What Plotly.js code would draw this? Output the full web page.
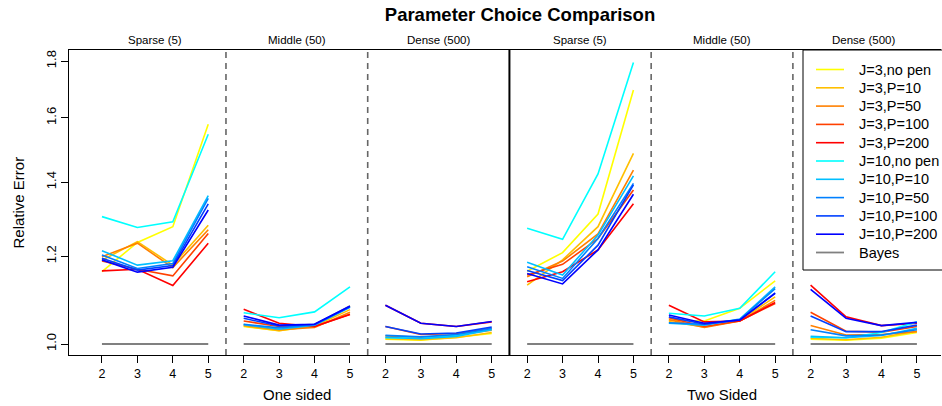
<!DOCTYPE html>
<html><head><meta charset="utf-8">
<script src="https://cdn.plot.ly/plotly-3.0.1.min.js"></script>
<style>html,body{margin:0;padding:0;background:#fff;}#chart{width:942px;height:406px;}</style>
</head><body><div id="chart"></div>
<script>
// x values within each panel
const xVals = [2, 3, 4, 5];
const panelTitles = ["Sparse (5)", "Middle (50)", "Dense (500)", "Sparse (5)", "Middle (50)", "Dense (500)"];
const groupTitles = ["One sided", "Two Sided"];
const seriesNames = ["J=3,no pen","J=3,P=10","J=3,P=50","J=3,P=100","J=3,P=200",
                     "J=10,no pen","J=10,P=10","J=10,P=50","J=10,P=100","J=10,P=200","Bayes"];
const seriesColors = ["#FFFF00","#FFBF00","#FF8000","#FF4000","#FF0000",
                      "#00FFFF","#00BFFF","#0080FF","#0040FF","#0000FF","#808080"];
// values: panels 1..6, each x=2,3,4,5
const J3_nopen = [1.162,1.235,1.276,1.579, 1.037,1.028,1.039,1.082, 1.010,1.008,1.014,1.022,
                  1.163,1.209,1.310,1.695, 1.051,1.049,1.077,1.140, 1.010,1.008,1.012,1.024];
const J3_P10   = [1.190,1.237,1.178,1.280, 1.038,1.028,1.038,1.074, 1.011,1.009,1.013,1.024,
                  1.130,1.191,1.276,1.486, 1.048,1.036,1.050,1.103, 1.012,1.009,1.014,1.027];
const J3_P50   = [1.199,1.233,1.172,1.268, 1.040,1.030,1.035,1.068, 1.017,1.014,1.019,1.029,
                  1.150,1.188,1.257,1.435, 1.052,1.035,1.049,1.095, 1.039,1.019,1.020,1.026];
const J3_P100  = [1.188,1.168,1.152,1.258, 1.049,1.037,1.037,1.064, 1.037,1.020,1.022,1.033,
                  1.154,1.180,1.245,1.377, 1.056,1.037,1.049,1.088, 1.068,1.027,1.025,1.037];
const J3_P200  = [1.164,1.168,1.129,1.233, 1.075,1.044,1.037,1.063, 1.084,1.044,1.037,1.047,
                  1.138,1.162,1.216,1.338, 1.084,1.047,1.049,1.090, 1.130,1.058,1.039,1.044];
const J10_nopen= [1.303,1.274,1.289,1.546, 1.067,1.056,1.069,1.126, 1.013,1.012,1.018,1.031,
                  1.272,1.243,1.424,1.795, 1.066,1.060,1.077,1.162, 1.014,1.013,1.024,1.047];
const J10_P10  = [1.214,1.178,1.189,1.361, 1.041,1.031,1.040,1.079, 1.014,1.011,1.016,1.030,
                  1.185,1.154,1.254,1.418, 1.044,1.040,1.053,1.126, 1.016,1.013,1.018,1.033];
const J10_P50  = [1.203,1.170,1.182,1.353, 1.042,1.034,1.041,1.080, 1.018,1.015,1.020,1.033,
                  1.174,1.146,1.245,1.396, 1.045,1.042,1.052,1.122, 1.030,1.017,1.019,1.030];
const J10_P100 = [1.195,1.166,1.177,1.338, 1.055,1.038,1.042,1.081, 1.037,1.021,1.023,1.036,
                  1.165,1.141,1.228,1.392, 1.058,1.042,1.051,1.112, 1.060,1.026,1.026,1.040];
const J10_P200 = [1.191,1.161,1.173,1.321, 1.060,1.040,1.042,1.082, 1.084,1.044,1.037,1.048,
                  1.158,1.133,1.216,1.365, 1.062,1.044,1.051,1.111, 1.120,1.055,1.039,1.046];
const Bayes    = [1,1,1,1, 1,1,1,1, 1,1,1,1, 1,1,1,1, 1,1,1,1, 1,1,1,1];
const yTicks = [1.0, 1.2, 1.4, 1.6, 1.8];
const yTickText = ["1.0","1.2","1.4","1.6","1.8"];

const allSeries = [J3_nopen,J3_P10,J3_P50,J3_P100,J3_P200,J10_nopen,J10_P10,J10_P50,J10_P100,J10_P200,Bayes];
const nPanels = 6, panelStep = 4;
function pos(p, v){ return p*panelStep + (v - xVals[0]); }

const FONT = "Liberation Sans, Arial, Helvetica, sans-serif";
const W = 942, H = 406, ML = 69, MR = 1, MT = 50, MB = 51;
const PW = W - ML - MR, PH = H - MT - MB;
const px2x = px => (px - ML) / PW;       // paper x from pixel
const py2y = py => (H - MB - py) / PH;   // paper y from pixel

const traces = [];
allSeries.forEach((vals, si) => {
  const xs = [], ys = [];
  for (let p = 0; p < nPanels; p++) {
    for (let i = 0; i < xVals.length; i++) { xs.push(pos(p, xVals[i])); ys.push(vals[p*4+i]); }
    xs.push(null); ys.push(null);
  }
  traces.push({type:"scatter", mode:"lines", x:xs, y:ys, name:seriesNames[si],
    connectgaps:false, showlegend:false,
    line:{color:seriesColors[si], width: si===10 ? 1.8 : 1.6}});
});

const tickvals = [], ticktext = [];
for (let p = 0; p < nPanels; p++) xVals.forEach(v => { tickvals.push(pos(p, v)); ticktext.push(String(v)); });

const shapes = [];
[3.5, 7.5, 15.5, 19.5].forEach(x => shapes.push({type:"line", xref:"x", yref:"paper", x0:x, x1:x, y0:0, y1:1,
  line:{color:"#666666", width:1.6, dash:"6px,5px"}}));
shapes.push({type:"line", xref:"x", yref:"paper", x0:11.5, x1:11.5, y0:0, y1:1, line:{color:"#000", width:2}});

const annotations = [];
panelTitles.forEach((t, p) => annotations.push({text:t, xref:"x", yref:"paper", x:pos(p,3.5), y:1, yanchor:"bottom",
  yshift:2, showarrow:false, font:{family:FONT, size:11.5, color:"#000"}}));
groupTitles.forEach((t, g) => annotations.push({text:t, xref:"x", yref:"paper", x:pos(g*3+1,3.5), y:0, yanchor:"middle",
  yshift:-39, showarrow:false, font:{family:FONT, size:15, color:"#000"}}));
annotations.push({text:"Relative Error", xref:"paper", yref:"paper", x:px2x(18), y:0.5, textangle:-90,
  xanchor:"center", yanchor:"middle", showarrow:false, font:{family:FONT, size:15, color:"#000"}});

// legend (drawn as frame + sample lines + text, like R's legend box)
shapes.push({type:"rect", xref:"paper", yref:"paper", x0:px2x(803), x1:px2x(960), y0:py2y(270), y1:1,
  line:{color:"#000", width:1}, fillcolor:"rgba(255,255,255,0)"});
seriesNames.forEach((nm, si) => {
  const yy = py2y(69.5 + 18.3*si);
  shapes.push({type:"line", xref:"paper", yref:"paper", x0:px2x(816), x1:px2x(844), y0:yy, y1:yy,
    line:{color:seriesColors[si], width: si===10 ? 1.8 : 1.6}});
  annotations.push({text:nm, xref:"paper", yref:"paper", x:px2x(857), y:yy, xanchor:"left", yanchor:"middle",
    showarrow:false, font:{family:FONT, size:14.5, color:"#000"}});
});

const layout = {
  width:W, height:H,
  margin:{l:ML, r:MR, t:MT, b:MB},
  paper_bgcolor:"#fff", plot_bgcolor:"#fff",
  title:{text:"<b>Parameter Choice Comparison</b>", x:520/942, xanchor:"center", y:1-15/406, yanchor:"middle",
    font:{family:FONT, size:18.5, color:"#000"}},
  showlegend:false,
  xaxis:{range:[-0.93, 23.68], tickmode:"array", tickvals:tickvals, ticktext:ticktext,
    showgrid:false, zeroline:false, showline:true, mirror:true, linecolor:"#000", linewidth:1,
    ticks:"outside", ticklen:7, tickcolor:"#000", tickfont:{family:FONT, size:12.5, color:"#000"}},
  yaxis:{type:"log", range:[Math.log10(0.9774), Math.log10(1.842)], tickmode:"array", tickvals:yTicks, ticktext:yTickText,
    showgrid:false, zeroline:false, showline:true, mirror:false, linecolor:"#000", linewidth:1,
    ticks:"outside", ticklen:7, tickcolor:"#000", tickangle:-90, tickfont:{family:FONT, size:13, color:"#000"}},
  shapes:shapes, annotations:annotations
};
Plotly.newPlot("chart", traces, layout, {staticPlot:true, displayModeBar:false});
</script></body></html>
